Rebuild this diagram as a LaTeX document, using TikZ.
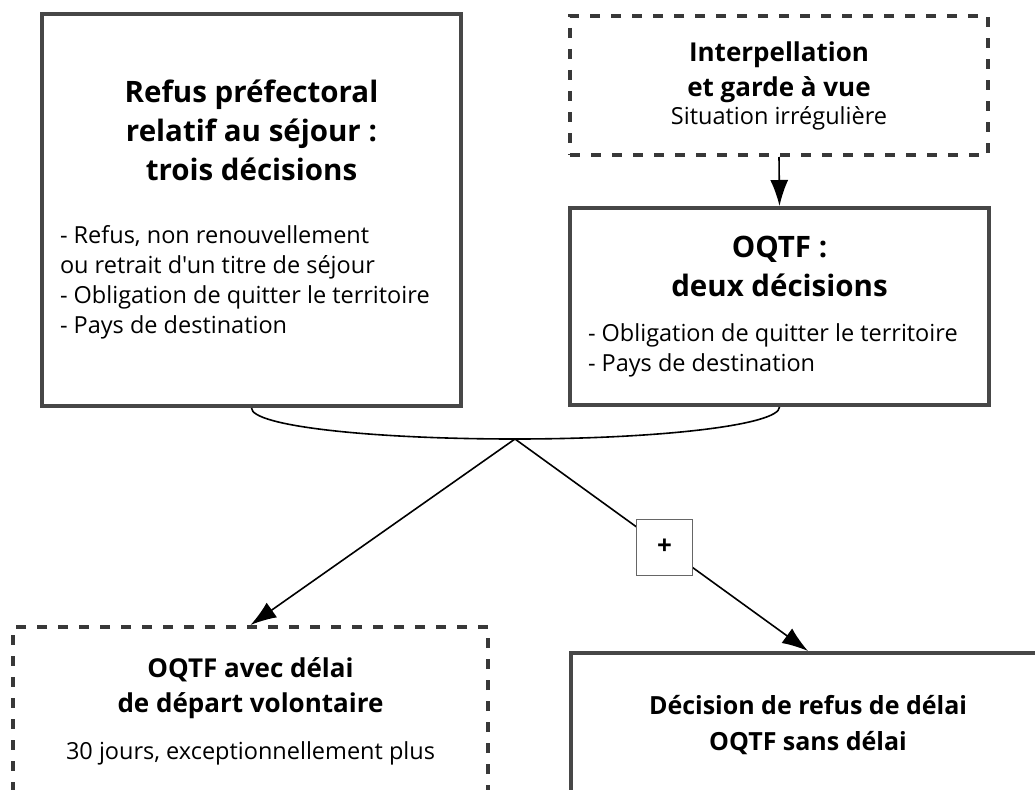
\documentclass[tikz,border=0pt]{standalone}
\usepackage{fontspec}
\setmainfont{Open Sans}[Ligatures=TeXOff]
\usetikzlibrary{arrows.meta}

\newcommand{\grandtitre}{\bfseries\fontsize{29.5}{39}\selectfont}
\newcommand{\petittitre}{\bfseries\fontsize{26}{35}\selectfont}
\newcommand{\texte}{\mdseries\fontsize{23.5}{30}\selectfont}

\begin{document}
\begin{tikzpicture}[x=1pt, y=-1pt,
    box/.style={draw=black!72, line width=4pt, fill=white, inner sep=0pt},
    dashbox/.style={draw=black!78, line width=4pt, dash pattern=on 10pt off 11pt, inner sep=0pt},
    plus/.style={draw=black!60, line width=1.2pt, fill=white, minimum size=56pt, inner sep=0pt, font=\bfseries\fontsize{26}{26}\selectfont},
    link/.style={line width=1.6pt},
    arr/.style={link, -{Latex[length=26pt,width=18pt]}}]
    \useasboundingbox (0,0) rectangle (1035,789);

    % Refus prefectoral
    \node[box, minimum width=419pt, minimum height=392pt] (refus) at (251.5,210) {%
        \begin{minipage}{383pt}\centering\grandtitre
        Refus préfectoral\\ relatif au séjour :\\ trois décisions\par
        \vspace{33pt}\raggedright\texte
        - Refus, non renouvellement\\ ou retrait d'un titre de séjour\\
        - Obligation de quitter le territoire\\ - Pays de destination
        \end{minipage}};

    % Interpellation
    \node[dashbox, minimum width=418pt, minimum height=139pt] (interp) at (779,85.5) {%
        \begin{minipage}{383pt}\centering\petittitre
        Interpellation\\ et garde à vue\par
        \vspace{-2pt}\texte Situation irrégulière
        \end{minipage}};

    % OQTF
    \node[box, minimum width=419pt, minimum height=197pt] (oqtf) at (779.5,306.5) {%
        \begin{minipage}{383pt}\centering\grandtitre
        OQTF :\\ deux décisions\par
        \vspace{15pt}\raggedright\texte
        - Obligation de quitter le territoire\\ - Pays de destination
        \end{minipage}};

    \draw[arr] (interp.south) -- (oqtf.north);

    % Junction
    \coordinate (join) at (515,439);
    \draw[link] (refus.south) .. controls +(0,18) and +(-145,0) .. (join);
    \draw[link] (oqtf.south) .. controls +(0,18) and +(145,0) .. (join);

    % Lower boxes
    \node[dashbox, minimum width=475pt, minimum height=260pt] (avec) at (250.5,757) {};
    \node (avectxt) at (250.5,711) {%
        \begin{minipage}{440pt}\centering\petittitre
        OQTF avec délai\\ de départ volontaire\par
        \vspace{17pt}\texte 30 jours, exceptionnellement plus
        \end{minipage}};

    \node[box, minimum width=474pt, minimum height=260pt] (sans) at (808,783) {};
    \node (sanstxt) at (808,725) {%
        \begin{minipage}{440pt}\centering\bfseries\fontsize{25}{36}\selectfont
        Décision de refus de délai\\ OQTF sans délai
        \end{minipage}};

    \draw[arr] (join) -- (avec.north);
    \draw[arr] (join) -- node[plus, pos=0.51] (plus) {+} (sans.north);
\end{tikzpicture}
\end{document}
